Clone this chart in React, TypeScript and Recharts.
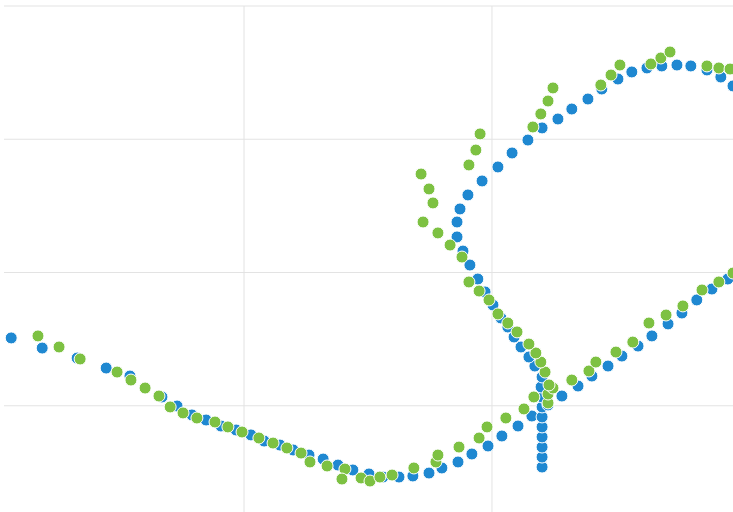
import { ScatterChart, Scatter, XAxis, YAxis, CartesianGrid, ReferenceLine } from "recharts";

// axis setup (no labels shown, only the grid)
const X_MIN = 3.2;
const X_MAX = 297.2;
const X_TICKS = [100, 200];
const Y_TICKS = [100, 200, 300, 400];

// blue series, [x, y]
const BLUE: [number, number][] = [
  [6.1, 150.9], [18.6, 143.3], [32.7, 135.8], [44.4, 128.3], [54.0, 122.3],
  [66.9, 106.6], [73.0, 99.8], [79.0, 93.1], [84.7, 89.3], [90.7, 84.8],
  [96.8, 81.8], [102.8, 78.1], [108.1, 73.5], [114.5, 70.5], [119.8, 66.8],
  [126.2, 63.0], [131.9, 60.0], [137.9, 55.5], [143.9, 51.8], [150.4, 48.8],
  [156.0, 46.5], [162.5, 46.5], [168.1, 47.3], [174.6, 49.5], [179.8, 53.3],
  [186.3, 57.8], [191.9, 63.8], [198.4, 69.8], [204.0, 77.3], [210.5, 84.8],
  [216.1, 92.3],
  [220.2, 54.0], [220.2, 61.5], [220.2, 69.0], [220.2, 76.6], [220.2, 84.1],
  [220.2, 91.6], [220.2, 99.1], [220.2, 106.6], [219.8, 114.1], [220.2, 121.6],
  [222.6, 100.6], [228.2, 107.3], [234.7, 114.8], [240.3, 122.3], [246.8, 129.8],
  [252.4, 137.3], [258.9, 144.8], [264.5, 152.4], [271.0, 161.4], [276.6, 169.6],
  [282.6, 179.4], [288.7, 187.6], [295.1, 195.1],
  [217.3, 129.8], [214.9, 136.6], [211.7, 144.1], [208.9, 151.6], [206.4, 159.1],
  [203.6, 165.9], [200.4, 175.6], [197.2, 185.4], [194.3, 195.1], [191.1, 205.6],
  [188.3, 216.1], [185.9, 226.7], [185.9, 237.9], [187.1, 247.7], [190.3, 258.2],
  [196.0, 268.7], [202.4, 279.2], [208.1, 289.7], [214.5, 299.4], [220.2, 308.5],
  [226.6, 315.2], [232.2, 322.7], [238.7, 330.2], [244.3, 337.7], [250.8, 345.2],
  [256.4, 350.5], [262.5, 353.5], [268.5, 355.0], [274.6, 355.7], [280.2, 355.0],
  [286.7, 352.0], [292.3, 346.7], [297.2, 340.0],
];

// green series, [x, y]
const GREEN: [number, number][] = [
  [16.9, 152.4], [25.4, 144.1], [33.9, 135.1], [48.8, 125.3], [54.4, 119.3],
  [60.1, 113.3], [65.7, 107.3], [70.2, 99.1], [75.4, 94.6], [81.0, 90.8],
  [88.3, 87.8], [93.5, 84.1], [99.2, 80.3], [106.0, 75.8], [111.7, 72.0],
  [117.3, 68.3], [123.0, 64.5], [126.6, 57.8], [133.5, 54.8], [140.7, 52.5],
  [139.5, 45.0], [147.2, 45.8], [150.8, 43.5], [154.8, 46.5], [159.7, 48.0],
  [168.5, 53.3], [177.4, 57.8], [178.2, 63.0], [186.7, 69.0], [194.8, 75.8],
  [198.0, 84.1], [205.6, 90.8], [212.9, 97.6], [216.9, 106.6],
  [222.6, 102.1], [222.6, 108.8], [224.6, 113.3], [223.0, 115.6], [221.4, 125.3],
  [219.7, 132.8], [217.7, 139.6], [214.9, 146.3], [210.1, 155.4], [206.4, 162.1],
  [202.4, 168.9], [198.8, 179.4], [194.8, 186.1], [190.7, 192.9],
  [187.9, 211.6], [183.1, 220.6], [178.2, 229.7], [172.2, 237.9],
  [176.2, 252.2], [174.6, 262.7], [171.4, 273.9],
  [190.7, 280.7], [193.5, 291.9], [195.2, 304.0],
  [216.5, 309.2], [219.7, 319.0], [222.6, 328.7], [224.6, 338.5],
  [232.2, 119.3], [239.1, 126.1], [241.9, 132.8], [250.0, 140.3], [256.8, 147.8],
  [263.3, 162.1], [270.2, 168.1], [277.0, 174.9], [284.7, 186.9], [291.5, 192.9],
  [297.2, 199.6],
  [243.9, 340.7], [248.0, 348.2], [251.6, 355.7],
  [264.1, 356.5], [268.1, 361.0], [271.8, 365.5],
  [286.7, 355.0], [291.5, 353.5], [296.0, 352.7],
];

const toPoints = (list: [number, number][]) => list.map(([x, y]) => ({ x, y }));

const GRID = "#e3e3e3";

// round marker with a thin white ring
const dot = (color: string) => (props: any) => (
  <circle cx={props.cx} cy={props.cy} r={6} fill={color} stroke="#fff" strokeWidth={1} />
);

export default function App() {
  return (
    <div
      style={{
        position: "absolute", left: 0, top: 0, width: 733, height: 512,
        overflow: "hidden", background: "#fff",
      }}
    >
      <ScatterChart width={733} height={540} margin={{ top: 6, right: 0, bottom: 1, left: 4 }}>
        <CartesianGrid stroke={GRID} vertical={false} />
        <XAxis type="number" dataKey="x" domain={[X_MIN, X_MAX]} ticks={X_TICKS} allowDataOverflow hide />
        <YAxis type="number" dataKey="y" domain={[0, 400]} ticks={Y_TICKS} allowDataOverflow hide />
        {X_TICKS.map((t) => (
          <ReferenceLine key={t} x={t} stroke={GRID} />
        ))}
        <Scatter data={toPoints(BLUE)} fill="#1f88d1" shape={dot("#1f88d1")} isAnimationActive={false} />
        <Scatter data={toPoints(GREEN)} fill="#7dc142" shape={dot("#7dc142")} isAnimationActive={false} />
      </ScatterChart>
    </div>
  );
}
